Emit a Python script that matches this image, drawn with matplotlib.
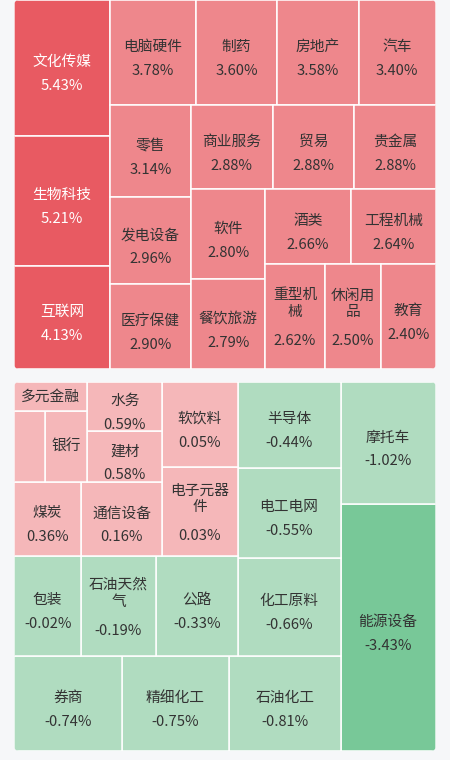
import matplotlib
matplotlib.use('Agg')
import matplotlib.pyplot as plt
from matplotlib.patches import Rectangle, FancyBboxPatch

plt.rcParams['font.family'] = ['Noto Sans CJK SC', 'DejaVu Sans']

# 涨幅靠前的板块，面积按涨幅
top_names = ['文化传媒', '生物科技', '互联网', '电脑硬件', '制药', '房地产', '汽车',
             '零售', '发电设备', '医疗保健', '商业服务', '贸易', '贵金属',
             '软件', '餐饮旅游', '酒类', '工程机械', '重型机械', '休闲用品', '教育']
top_values = [5.43, 5.21, 4.13, 3.78, 3.60, 3.58, 3.40, 3.14, 2.96, 2.90,
              2.88, 2.88, 2.88, 2.80, 2.79, 2.66, 2.64, 2.62, 2.50, 2.40]

# 其余板块，面积权重是从图上估出来的
bottom_names = ['能源设备', '摩托车', '石油化工', '精细化工', '券商',
                '化工原料', '电工电网', '半导体', '公路', '石油天然气', '包装',
                '电子元器件', '软饮料', '通信设备', '煤炭', '建材', '水务',
                '银行', '', '多元金融']
bottom_values = [-3.43, -1.02, -0.81, -0.75, -0.74, -0.66, -0.55, -0.44, -0.33,
                 -0.19, -0.02, 0.03, 0.05, 0.16, 0.36, 0.58, 0.59, None, None, None]
bottom_weights = [23.5, 11.6, 10.6, 10.2, 10.2, 10.1, 9.3, 8.8, 8.2, 7.5, 6.7,
                  6.7, 6.4, 6.0, 4.9, 3.8, 3.7, 3.0, 2.2, 2.1]
bottom_strips = [2, 3, 3, 3, 2, 2, 2, 2, 1]

BG = '#f6f7f9'
FS = 10.6          # pt
CHAR_PX = 14.7     # 一个汉字大约的像素宽


def worst(row, side):
    s = sum(row)
    return max(side * side * max(row) / (s * s), s * s / (side * side * min(row)))


def squarify(weights, x, y, w, h, strips=None):
    total = sum(weights)
    areas = [v / total * w * h for v in weights]
    rects = []
    i, k = 0, 0
    while i < len(areas):
        side = min(w, h)
        if strips is not None:
            n = strips[k]
        else:
            n = 1
            while i + n < len(areas) and \
                    worst(areas[i:i + n + 1], side) <= worst(areas[i:i + n], side):
                n += 1
        row = areas[i:i + n]
        thick = sum(row) / side
        pos = 0
        for a in row:
            length = a / thick
            if w >= h:
                rects.append((x, y + pos, thick, length))
            else:
                rects.append((x + pos, y, length, thick))
            pos += length
        if w >= h:
            x += thick
            w -= thick
        else:
            y += thick
            h -= thick
        i += n
        k += 1
    return rects


def cell_color(v):
    if v is None:
        return '#f5b7b9'
    if v >= 4:
        return '#e85a62'
    if v >= 2:
        return '#ee878c'
    if v >= 0:
        return '#f5b7b9'
    if v > -2:
        return '#b0dcc0'
    return '#78c898'


def draw_panel(ax, names, values, rects, box):
    x0, y0, W, H = box
    panel = FancyBboxPatch((x0, y0), W, H, boxstyle='round,pad=0,rounding_size=5',
                           facecolor='white', edgecolor='none')
    ax.add_patch(panel)
    for name, v, (x, y, w, h) in zip(names, values, rects):
        r = Rectangle((x, y), w, h, facecolor=cell_color(v), edgecolor='white', lw=1.1)
        ax.add_patch(r)
        r.set_clip_path(panel)
        if not name or w < 2 * CHAR_PX:
            continue
        tc = 'white' if v is not None and v >= 4 else '#333333'
        cx, cy = x + w / 2, y + h / 2
        per = max(1, int((w - 8) / CHAR_PX))
        lines = [name[j:j + per] for j in range(0, len(name), per)]
        if v is None:
            ax.text(cx, cy, name, ha='center', va='center', fontsize=FS, color=tc)
            continue
        if len(lines) == 1:
            ys = [cy - 5.5]
            vy = cy + 18.5
        else:
            ys = [cy - 21, cy - 4]
            vy = cy + 25
        for ln, ly in zip(lines, ys):
            ax.text(cx, ly, ln, ha='center', va='center', fontsize=FS, color=tc)
        ax.text(cx, vy, f'{v:.2f}%', ha='center', va='center', fontsize=FS, color=tc)


fig = plt.figure(figsize=(4.5, 7.6), dpi=100, facecolor=BG)
ax = fig.add_axes([0, 0, 1, 1])
ax.set_xlim(0, 450)
ax.set_ylim(760, 0)
ax.axis('off')

top_box = (14.3, 0, 421.4, 369)
top_rects = squarify(top_values, *top_box)
draw_panel(ax, top_names, top_values, top_rects, top_box)

# 下半部分从右下角开始排
bot_box = (14.3, 382, 421.4, 369)
bx, by, bw, bh = bot_box
local = squarify(bottom_weights, bx, by, bw, bh, strips=bottom_strips)
bot_rects = [(bx + bw - (x - bx) - w, by + bh - (y - by) - h, w, h) for x, y, w, h in local]
draw_panel(ax, bottom_names, bottom_values, bot_rects, bot_box)

plt.savefig('out.png', dpi=100, facecolor=BG)
